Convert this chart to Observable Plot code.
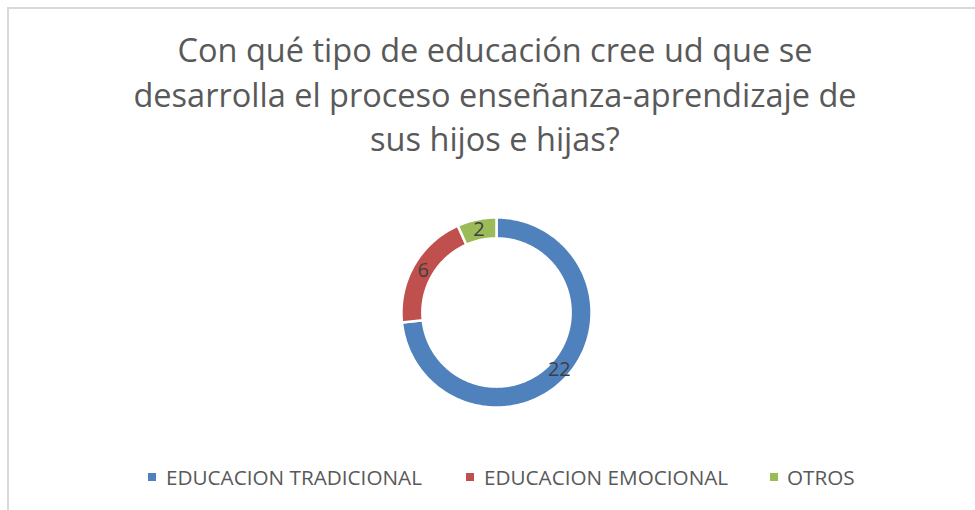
<!DOCTYPE html>
<html>
<head>
<meta charset="utf-8">
<script src="https://cdn.jsdelivr.net/npm/d3@7"></script>
<script src="https://cdn.jsdelivr.net/npm/@observablehq/plot@0.6"></script>
<style>
  html, body { margin: 0; padding: 0; background: #fff; }
  #page { position: relative; width: 975px; height: 510px; overflow: hidden; background: #fff; font-family: "Open Sans", "Liberation Sans", sans-serif; }
  #frame { position: absolute; left: 7px; top: 7px; width: 1000px; height: 600px; border-left: 2px solid #d9d9d9; border-top: 2px solid #d9d9d9; }
  #title { position: absolute; left: 0; width: 990px; top: 28px; text-align: center; color: #595959; font-size: 32.5px; line-height: 44.5px; white-space: nowrap; }
  #chart { position: absolute; left: 381px; top: 197px; }
  .lg-sq { position: absolute; width: 8px; height: 8px; }
  .lg-tx { position: absolute; color: #595959; font-size: 20.7px; line-height: 20px; white-space: nowrap; }
</style>
</head>
<body>
<div id="page">
  <div id="frame"></div>
  <div id="title"></div>
  <div id="chart"></div>
  <div id="legend"></div>
</div>
<script>
const categories = ["EDUCACION TRADICIONAL", "EDUCACION EMOCIONAL", "OTROS"];
const values = [22, 6, 2];
const colors = ["#4F81BD", "#C0504D", "#9BBB59"];
const titleLines = ["Con qué tipo de educación cree ud que se", "desarrolla el proceso enseñanza-aprendizaje de", "sus hijos e hijas?"];

const rows = categories.map((c, i) => ({category: c, value: values[i]}));
const arcs = d3.pie().sort(null).value(d => d.value)(rows);

const outerR = 1.0, innerR = 0.78;
const ring = [];
for (const a of arcs) {
  const n = Math.max(4, Math.ceil((a.endAngle - a.startAngle) / (2 * Math.PI) * 360));
  for (let k = 0; k <= n; k++) {
    const t = a.startAngle + (a.endAngle - a.startAngle) * k / n;
    ring.push({category: a.data.category, x: outerR * Math.sin(t), y: outerR * Math.cos(t)});
  }
  for (let k = n; k >= 0; k--) {
    const t = a.startAngle + (a.endAngle - a.startAngle) * k / n;
    ring.push({category: a.data.category, x: innerR * Math.sin(t), y: innerR * Math.cos(t)});
  }
}
const midR = (outerR + innerR) / 2;
const labels = arcs.map(a => {
  const m = (a.startAngle + a.endAngle) / 2;
  return {category: a.data.category, value: a.data.value, x: midR * Math.sin(m), y: midR * Math.cos(m)};
});

const plot = Plot.plot({
  width: 230,
  height: 230,
  margin: 0,
  x: {domain: [-1.21, 1.21], axis: null},
  y: {domain: [-1.21, 1.21], axis: null},
  color: {domain: categories, range: colors},
  style: {background: "transparent", overflow: "visible"},
  marks: [
    Plot.line(ring, {x: "x", y: "y", z: "category", fill: "category", stroke: "white", strokeWidth: 2.5, curve: "linear-closed"}),
    Plot.text(labels, {x: "x", y: "y", text: d => String(d.value), fill: "#404040", fontSize: 20, fontFamily: "Open Sans, sans-serif"})
  ]
});
document.getElementById("chart").appendChild(plot);

document.getElementById("title").innerHTML = titleLines.map(t => `<div>${t}</div>`).join("");

const legendPos = [{sq: 148, tx: 166}, {sq: 466, tx: 484}, {sq: 770, tx: 787}];
const legend = document.getElementById("legend");
categories.forEach((c, i) => {
  const sq = document.createElement("div");
  sq.className = "lg-sq";
  sq.style.left = legendPos[i].sq + "px";
  sq.style.top = "473px";
  sq.style.background = colors[i];
  legend.appendChild(sq);
  const tx = document.createElement("div");
  tx.className = "lg-tx";
  tx.style.left = legendPos[i].tx + "px";
  tx.style.top = "467px";
  tx.textContent = c;
  legend.appendChild(tx);
});
</script>
</body>
</html>
